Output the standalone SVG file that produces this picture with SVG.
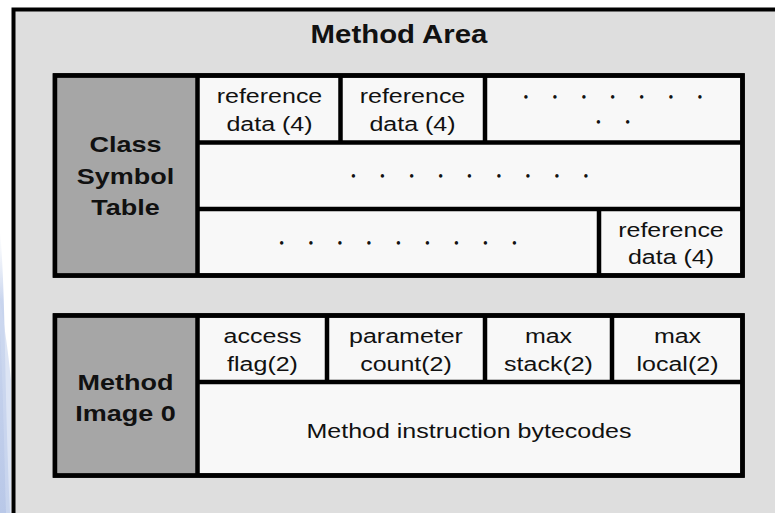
<svg xmlns="http://www.w3.org/2000/svg" width="775" height="513" viewBox="0 0 775 513">
  <defs>
    <linearGradient id="edgeTint" x1="0" y1="0" x2="0" y2="1">
      <stop offset="0" stop-color="#dfe6f4" stop-opacity="0"/>
      <stop offset="0.25" stop-color="#c9d5ee"/>
      <stop offset="1" stop-color="#b9c8e8"/>
    </linearGradient>
  </defs>
  <style>
    .frame { fill: #dedede; stroke: #000; stroke-width: 4; }
    .box { fill: #f8f8f8; stroke: #000; stroke-width: 4.5; }
    .head { fill: #a6a6a6; }
    .div { stroke: #000; stroke-width: 4.5; fill: none; }
    .t { font-family: "Liberation Sans", Arial, sans-serif; fill: #111; text-anchor: middle; }
    .reg { font-size: 20px; }
    .lbl { font-size: 22.5px; font-weight: bold; }
    .ttl { font-size: 26px; font-weight: bold; }
    .dots { font-family: "Noto Sans", "Liberation Sans", sans-serif; font-size: 16px; fill: #111; stroke: #111; stroke-width: 1.3; stroke-linejoin: round; text-anchor: middle; }
  </style>

  <rect width="775" height="513" fill="#ffffff"/>
  <!-- faint tint along the left margin -->
  <path d="M0,230 C6,300 4,380 10,513 L0,513 Z" fill="url(#edgeTint)"/>
  <path d="M0,300 C5,330 8,350 11,380 L11,513 L6,513 C4,430 2,360 0,330 Z" fill="#cdd8ef" opacity="0.7"/>

  <!-- outer area -->
  <g id="method-area">
    <rect class="frame" x="13.5" y="9.5" width="800" height="520"/>
    <text class="t ttl" transform="translate(399 43.3) scale(1.13 1)">Method Area</text>
  </g>

  <!-- class symbol table -->
  <g id="class-symbol-table">
    <rect class="box" x="55" y="75.5" width="687.5" height="200"/>
    <rect class="head" x="57.25" y="77.75" width="140.25" height="195.5"/>
    <path class="div" d="M197.5,75.5 V275.5 M197.5,142.5 H742.5 M197.5,209 H742.5 M340.5,75.5 V142.5 M485,75.5 V142.5 M599,209 V275.5"/>
    <rect x="55" y="75.5" width="687.5" height="200" fill="none" stroke="#000" stroke-width="4.5"/>
    <text class="t lbl" transform="translate(125.5 152) scale(1.2 1)">Class</text>
    <text class="t lbl" transform="translate(125.5 183.5) scale(1.2 1)">Symbol</text>
    <text class="t lbl" transform="translate(125.5 215) scale(1.2 1)">Table</text>

    <text class="t reg" transform="translate(269.5 103) scale(1.25 1)">reference</text>
    <text class="t reg" transform="translate(269.5 131) scale(1.25 1)">data (4)</text>
    <text class="t reg" transform="translate(412.5 103) scale(1.25 1)">reference</text>
    <text class="t reg" transform="translate(412.5 131) scale(1.25 1)">data (4)</text>

    <!-- wrapped run of dots: one text, two lines -->
    <text class="dots"><tspan x="526 555 584 612.7 641.7 671 700" y="98.2">.......</tspan><tspan x="598.3 627.7" y="123.2">..</tspan></text>
    <text class="dots" x="353.3 382.3 411.7 440.7 469.3 499 528 557 586" y="177.2">.........</text>
    <text class="dots" x="281.7 311 340 369 398.3 427.3 456.3 485.3 514.3" y="243.9">.........</text>

    <text class="t reg" transform="translate(671 236.5) scale(1.25 1)">reference</text>
    <text class="t reg" transform="translate(671 264) scale(1.25 1)">data (4)</text>
  </g>

  <!-- method image -->
  <g id="method-image-0">
    <rect class="box" x="55" y="315.5" width="687.5" height="160"/>
    <rect class="head" x="57.25" y="317.75" width="140.25" height="155.5"/>
    <path class="div" d="M197.5,315.5 V475.5 M197.5,382 H742.5 M327,315.5 V382 M485,315.5 V382 M612,315.5 V382"/>
    <rect x="55" y="315.5" width="687.5" height="160" fill="none" stroke="#000" stroke-width="4.5"/>
    <text class="t lbl" transform="translate(125.5 390) scale(1.2 1)">Method</text>
    <text class="t lbl" transform="translate(125.5 421) scale(1.2 1)">Image 0</text>

    <text class="t reg" transform="translate(262.5 343) scale(1.25 1)">access</text>
    <text class="t reg" transform="translate(262.5 371) scale(1.25 1)">flag(2)</text>
    <text class="t reg" transform="translate(406 343) scale(1.25 1)">parameter</text>
    <text class="t reg" transform="translate(406 371) scale(1.25 1)">count(2)</text>
    <text class="t reg" transform="translate(548.5 343) scale(1.25 1)">max</text>
    <text class="t reg" transform="translate(548.5 371) scale(1.25 1)">stack(2)</text>
    <text class="t reg" transform="translate(677.5 343) scale(1.25 1)">max</text>
    <text class="t reg" transform="translate(677.5 371) scale(1.25 1)">local(2)</text>

    <text class="t reg" transform="translate(469 438.3) scale(1.25 1)">Method instruction bytecodes</text>
  </g>
</svg>
